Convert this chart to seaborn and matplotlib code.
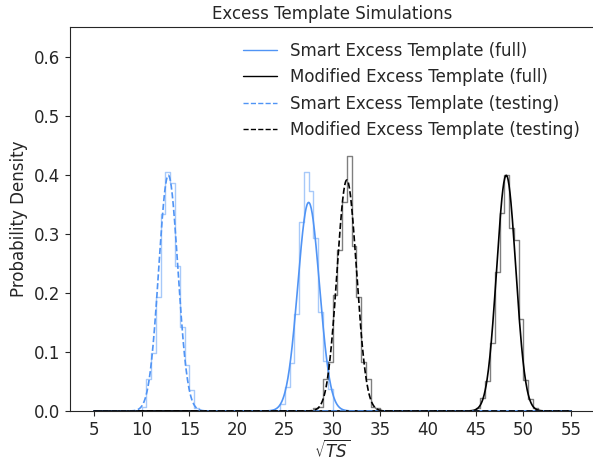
import matplotlib
matplotlib.use("Agg")
import matplotlib.pyplot as plt
import numpy as np
import pandas as pd
import seaborn as sns

# bin heights (probability density), bins 0.5 wide
bin_width = 0.5

smart_test_start = 9.5
smart_test_hist = [0.0, 0.006, 0.055, 0.099, 0.193, 0.333, 0.404, 0.386, 0.245,
                   0.142, 0.078, 0.035, 0.005, 0.0]

smart_full_start = 24.0
smart_full_hist = [0.0, 0.012, 0.041, 0.082, 0.165, 0.320, 0.404, 0.372, 0.292,
                   0.168, 0.085, 0.038, 0.0]

mod_test_start = 27.5
mod_test_hist = [0.0, 0.005, 0.007, 0.054, 0.083, 0.196, 0.272, 0.353, 0.431,
                 0.280, 0.193, 0.083, 0.055, 0.007, 0.005, 0.0]

mod_full_start = 44.5
mod_full_hist = [0.0, 0.005, 0.022, 0.050, 0.115, 0.235, 0.336, 0.400, 0.309,
                 0.289, 0.155, 0.052, 0.021, 0.005, 0.0]

# gaussian fit parameters (mean, sigma) for the curves
smart_full_fit = (27.5, 1.13)
mod_full_fit = (48.2, 1.0)
smart_test_fit = (12.8, 1.0)
mod_test_fit = (31.5, 1.02)

labels = ["Smart Excess Template (full)", "Modified Excess Template (full)",
          "Smart Excess Template (testing)", "Modified Excess Template (testing)"]

blue = "#5094f5"
black = "black"

sns.set_style("ticks")
plt.rcParams["font.family"] = ["DejaVu Sans"]

fig = plt.figure(figsize=(5.93, 4.62), dpi=100)
ax = fig.add_axes([70 / 593, 51 / 462, 525 / 593, 384 / 462])


def step_hist(start, heights, color):
    n = len(heights)
    edges = [start + bin_width * i for i in range(n + 1)]
    df = pd.DataFrame({"center": [e + bin_width / 2 for e in edges[:-1]],
                       "height": heights})
    sns.histplot(data=df, x="center", weights="height", bins=edges,
                 element="step", fill=False, color=color, alpha=0.5,
                 linewidth=1, ax=ax)


step_hist(smart_full_start, smart_full_hist, blue)
step_hist(mod_full_start, mod_full_hist, black)
step_hist(smart_test_start, smart_test_hist, blue)
step_hist(mod_test_start, mod_test_hist, black)

xs = np.linspace(5, 55, 1000)


def gauss(fit):
    mu, sig = fit
    return np.exp(-0.5 * ((xs - mu) / sig) ** 2) / (sig * np.sqrt(2 * np.pi))


sns.lineplot(x=xs, y=gauss(smart_full_fit), color=blue, lw=1.2, label=labels[0], ax=ax)
sns.lineplot(x=xs, y=gauss(mod_full_fit), color=black, lw=1.2, label=labels[1], ax=ax)
sns.lineplot(x=xs, y=gauss(smart_test_fit), color=blue, lw=1.2, ls="--", label=labels[2], ax=ax)
sns.lineplot(x=xs, y=gauss(mod_test_fit), color=black, lw=1.2, ls="--", label=labels[3], ax=ax)

ax.set_xlim(2.5, 57.5)
ax.set_ylim(0, 0.65)
ax.set_xticks(np.arange(5, 56, 5))
ax.set_yticks(np.arange(0, 0.61, 0.1))
ax.tick_params(labelsize=12)
ax.set_xlabel(r"$\sqrt{TS}$", fontsize=12, labelpad=1)
ax.set_ylabel("Probability Density", fontsize=12)
ax.set_title("Excess Template Simulations", fontsize=12)

leg = ax.legend(loc="upper right", frameon=False, fontsize=12)
for line in leg.get_lines():
    line.set_linewidth(1.0)

fig.savefig("out.png", dpi=100)
